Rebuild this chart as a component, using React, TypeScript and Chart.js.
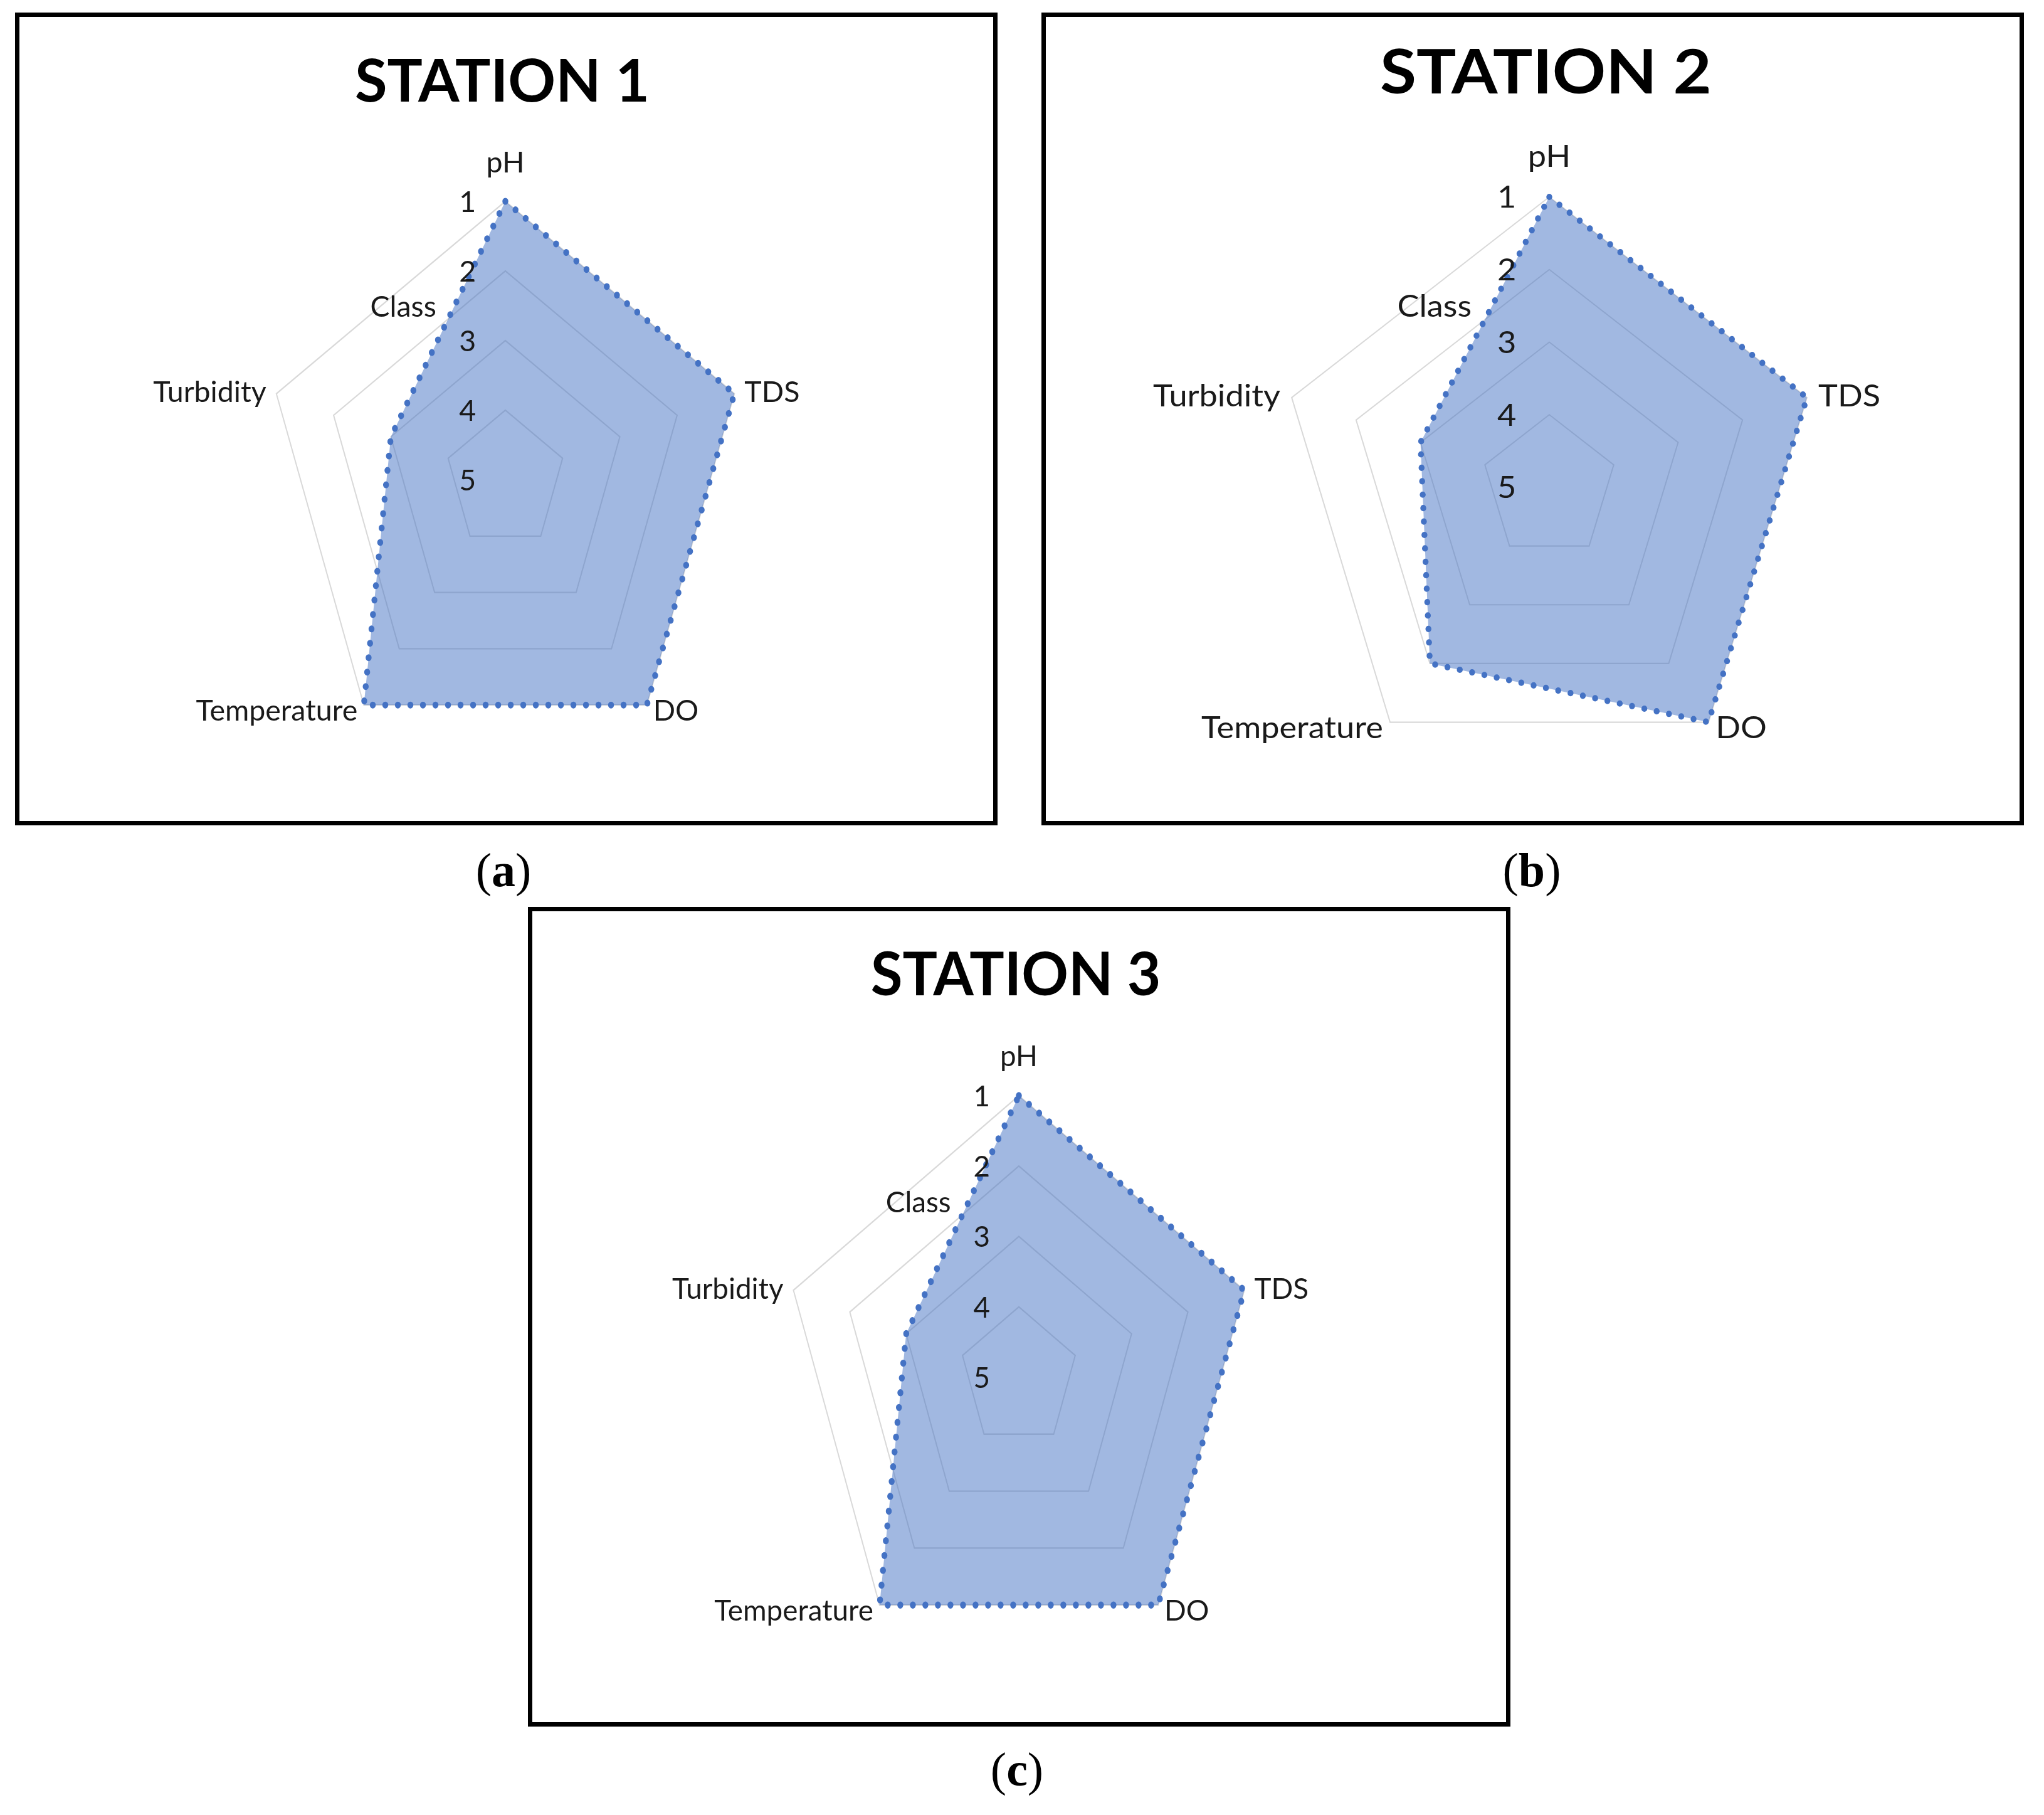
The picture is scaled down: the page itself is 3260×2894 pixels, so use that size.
import React, { useEffect, useRef } from 'react';
import { Chart, registerables } from 'chart.js';

Chart.register(...registerables);

// ---------- data ----------
const categories = ['pH', 'TDS', 'DO', 'Temperature', 'Turbidity'];
const station1 = [1, 1, 1, 1, 3];
const station2 = [1, 1, 1, 2, 3];
const station3 = [1, 1, 1, 1, 3];
const tickValues = [1, 2, 3, 4, 5];
const stationTitles = ['STATION 1', 'STATION 2', 'STATION 3'];
const panelLetters = ['a', 'b', 'c'];
const valueAxisTitle = 'Class';
const stationValues = [station1, station2, station3];

// ---------- layout (page pixels) ----------
const BORDER = 7;
const PANELS = [
  { left: 24, top: 20, width: 1567, height: 1296, cx: 806, cy: 765, rx: 384, ry: 444, capX: 803, capBase: 1412 },
  { left: 1661, top: 20, width: 1567, height: 1296, cx: 2471, cy: 777, rx: 432, ry: 463, capX: 2443, capBase: 1412 },
  { left: 842, top: 1446, width: 1567, height: 1307, cx: 1625, cy: 2196, rx: 378, ry: 449, capX: 1622, capBase: 2846 },
];

const TEXT_COLOR = '#1a1a1a';
const CAP = 0.7165;

function drawText(ctx: CanvasRenderingContext2D, text: string, x: number, y: number, font: string, align: CanvasTextAlign, t: number, color: string) {
  ctx.save();
  ctx.translate(x, y);
  ctx.scale(1, t);
  ctx.font = font;
  ctx.textAlign = align;
  ctx.textBaseline = 'alphabetic';
  ctx.fillStyle = color;
  ctx.fillText(text, 0, 0);
  ctx.restore();
}

const stationRadarPlugin = {
  id: 'stationRadar',
  beforeDraw(chart: any, _args: any, o: any) {
    const r = chart.scales.r;
    const ctx = chart.ctx;
    ctx.save();
    ctx.translate(r.xCenter, r.yCenter);
    ctx.scale(1, o.k);
    ctx.translate(-r.xCenter, -r.yCenter);
  },
  afterDatasetsDraw(chart: any) {
    chart.ctx.restore();
  },
  afterDraw(chart: any, _args: any, o: any) {
    const r = chart.scales.r;
    const ctx = chart.ctx as CanvasRenderingContext2D;
    const xc = r.xCenter;
    const yc = r.yCenter;
    const R = r.drawingArea;
    const k = o.k;
    const sx = o.sx;
    const sy = o.sy;
    const t = sy / sx;
    const fs = 46.5 * sx;
    const font = `${fs}px Lato`;
    const mid = (y: number) => y + (CAP * fs * t) / 2;

    // category labels
    (chart.data.labels as string[]).forEach((lab, i) => {
      const p = r.getPointPosition(i, R);
      const vx = p.x;
      const vy = yc + (p.y - yc) * k;
      const c = Math.cos(p.angle);
      const s = Math.sin(p.angle);
      if (Math.abs(c) < 0.05) {
        drawText(ctx, lab, vx, vy - 46 * sy, font, 'center', t, TEXT_COLOR);
      } else {
        drawText(ctx, lab, vx + 17 * c * sx, mid(vy + 10 * s * sy), font, c > 0 ? 'left' : 'right', t, TEXT_COLOR);
      }
    });

    // value ticks
    r.ticks.forEach((tk: any) => {
      const d = r.getDistanceFromCenterForValue(tk.value);
      drawText(ctx, String(tk.value), xc - 0.157 * R, mid(yc - d * k), font, 'center', t, TEXT_COLOR);
    });

    // axis title
    drawText(ctx, o.axisTitle, xc - 0.424 * R, mid(yc - 0.624 * R * k), font, 'center', t, TEXT_COLOR);

    // chart title
    const tf = 94 * sx;
    drawText(ctx, o.title, xc - 5 * sx, yc - 1.357 * R * k, `bold ${tf}px Lato`, 'center', t, '#000');
  },
};

function RadarPanel({ idx }: { idx: number }) {
  const ref = useRef<HTMLCanvasElement>(null);
  const P = PANELS[idx];
  const W = P.width - 2 * BORDER;
  const H = P.height - 2 * BORDER;

  useEffect(() => {
    const cxc = P.cx - P.left - BORDER;
    const cyc = P.cy - P.top - BORDER;
    const padding = {
      left: cxc - P.rx,
      right: W - cxc - P.rx,
      top: cyc - P.rx,
      bottom: H - cyc - P.rx,
    };
    const chart = new Chart(ref.current as HTMLCanvasElement, {
      type: 'radar',
      data: {
        labels: categories,
        datasets: [
          {
            label: stationTitles[idx],
            data: stationValues[idx],
            borderColor: '#4472C4',
            borderWidth: 9.5,
            borderDash: [0, 20],
            borderCapStyle: 'round',
            borderJoinStyle: 'round',
            backgroundColor: 'rgba(68,114,196,0.5)',
            fill: 'start',
            pointRadius: 0,
            pointHoverRadius: 0,
            clip: false,
          } as any,
        ],
      },
      options: {
        responsive: false,
        animation: false,
        devicePixelRatio: 1,
        layout: { padding },
        plugins: {
          legend: { display: false },
          tooltip: { enabled: false },
          title: { display: false },
          stationRadar: {
            k: P.ry / P.rx,
            sx: P.rx / 384,
            sy: P.ry / 444,
            title: stationTitles[idx],
            axisTitle: valueAxisTitle,
          },
        } as any,
        scales: {
          r: {
            min: tickValues[0],
            max: tickValues[tickValues.length - 1],
            reverse: true,
            ticks: { display: false, stepSize: 1 },
            grid: { color: '#D9D9D9', lineWidth: 2 },
            angleLines: { display: false },
            pointLabels: { display: false },
          },
        },
        elements: { line: { tension: 0 } },
      },
      plugins: [stationRadarPlugin as any],
    });
    return () => chart.destroy();
  }, []);

  return (
    <div
      style={{
        position: 'absolute',
        left: P.left,
        top: P.top,
        width: P.width,
        height: P.height,
        border: `${BORDER}px solid #000`,
        boxSizing: 'border-box',
        background: '#fff',
      }}
    >
      <canvas ref={ref} width={W} height={H} style={{ display: 'block', width: W, height: H }} />
    </div>
  );
}

export default function App() {
  return (
    <div style={{ position: 'absolute', left: 0, top: 0, width: 3260, height: 2894, background: '#fff' }}>
      {PANELS.map((P, i) => (
        <React.Fragment key={i}>
          <RadarPanel idx={i} />
          <div
            style={{
              position: 'absolute',
              left: P.capX - 150,
              width: 300,
              top: P.capBase - 63,
              textAlign: 'center',
              fontFamily: '"Liberation Serif", "Times New Roman", serif',
              fontSize: 76,
              lineHeight: '76px',
              color: '#000',
            }}
          >
            (<b>{panelLetters[i]}</b>)
          </div>
        </React.Fragment>
      ))}
    </div>
  );
}
